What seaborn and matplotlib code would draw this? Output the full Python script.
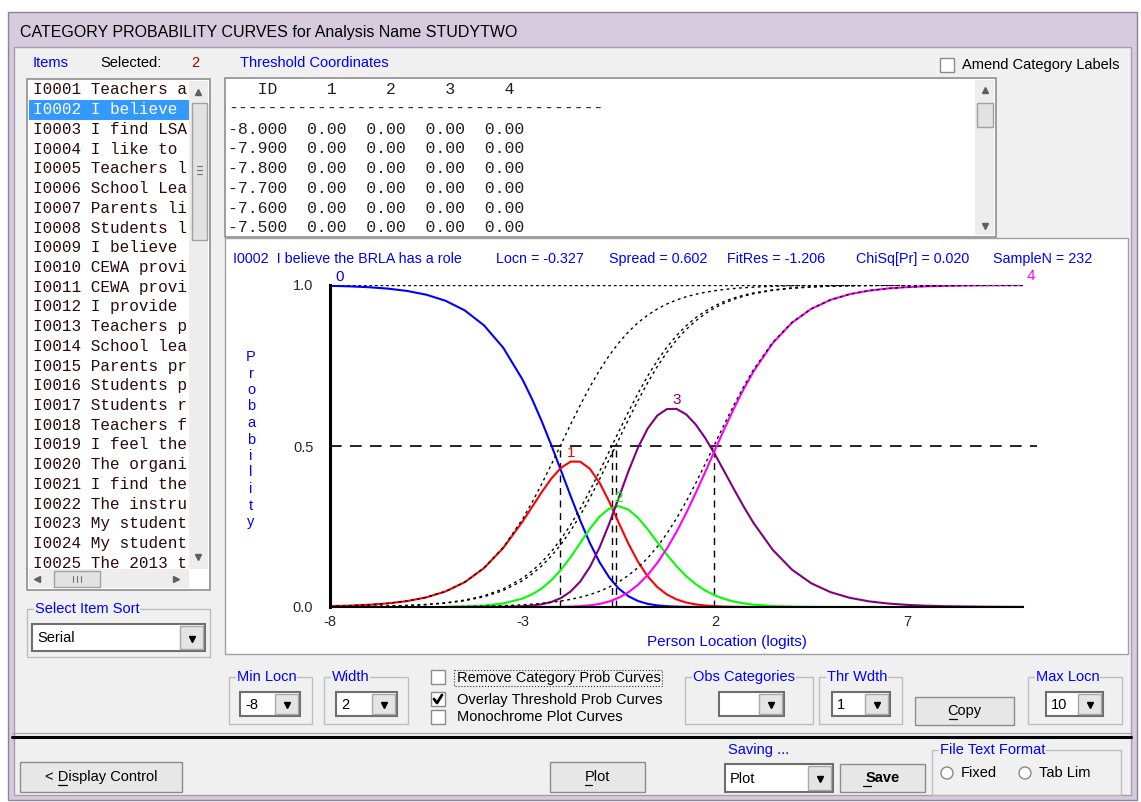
import matplotlib
matplotlib.use("Agg")
import matplotlib.pyplot as plt
from matplotlib.patches import Rectangle, Circle
import numpy as np
import pandas as pd
import seaborn as sns

nan = np.nan

locations = [-8, -7.5, -7, -6.5, -6, -5.5, -5, -4.5, -4, -3.5, -3,
             -2.75, -2.5, -2.25, -2, -1.75, -1.5, -1.25, -1, -0.75, -0.5, -0.25,
             0, 0.25, 0.5, 0.75, 1, 1.25, 1.5, 1.75, 2, 2.25, 2.5, 2.75, 3,
             3.5, 4, 4.5, 5, 5.5, 6, 6.5, 7, 7.5, 8, 8.5, 9, 9.5, 10]

# category probability curves (nan = curve not drawn there)
cat0 = [0.9975, 0.9958, 0.9932, 0.9888, 0.9816, 0.9699, 0.9511, 0.9211, 0.8747, 0.8052, 0.7065,
        0.6453, 0.5767, 0.5022, 0.4238, 0.3446, 0.2683, 0.1988, 0.1393, 0.0920, 0.0572, 0.0335,
        0.0186, 0.0098, 0.0050, 0.0024, 0.0012, 0.0005, 0.0002, 0.0001, 0.0, nan, nan, nan, nan,
        nan, nan, nan, nan, nan, nan, nan, nan, nan, nan, nan, nan, nan, nan]
cat1 = [0.0025, 0.0042, 0.0068, 0.0112, 0.0183, 0.0299, 0.0483, 0.0771, 0.1208, 0.1833, 0.2651,
        0.3110, 0.3569, 0.3990, 0.4323, 0.4514, 0.4513, 0.4293, 0.3863, 0.3277, 0.2616, 0.1969,
        0.1404, 0.0953, 0.0620, 0.0389, 0.0236, 0.0139, 0.0080, 0.0045, 0.0025, 0.0013, 0.0007, 0.0004, 0.0002,
        0.0001, 0.0, nan, nan, nan, nan, nan, nan, nan, nan, nan, nan, nan, nan]
cat2 = [nan, nan, nan, nan, nan, nan, 0.0006, 0.0017, 0.0044, 0.0109, 0.0261,
        0.0392, 0.0578, 0.0830, 0.1155, 0.1548, 0.1988, 0.2428, 0.2806, 0.3055, 0.3132, 0.3027,
        0.2771, 0.2416, 0.2019, 0.1626, 0.1267, 0.0960, 0.0708, 0.0510, 0.0359, 0.0248, 0.0167, 0.0111, 0.0073,
        0.0030, 0.0012, 0.0005, 0.0002, 0.0001, 0.0, 0.0, 0.0, 0.0, 0.0, 0.0, nan, nan, nan]
cat3 = [nan, nan, nan, nan, nan, nan, nan, nan, 0.0001, 0.0006, 0.0023,
        0.0045, 0.0085, 0.0156, 0.0279, 0.0481, 0.0792, 0.1242, 0.1843, 0.2578, 0.3393, 0.4211,
        0.4949, 0.5540, 0.5944, 0.6146, 0.6153, 0.5983, 0.5667, 0.5239, 0.4736, 0.4192, 0.3641, 0.3107, 0.2611,
        0.1774, 0.1159, 0.0737, 0.0461, 0.0285, 0.0175, 0.0107, 0.0065, 0.0040, 0.0024, 0.0015, 0.0009, 0.0005, 0.0003]
cat4 = [nan, nan, nan, nan, nan, nan, 0.0, 0.0, 0.0, 0.0, 0.0,
        0.0, 0.0001, 0.0002, 0.0005, 0.0012, 0.0025, 0.0050, 0.0095, 0.0170, 0.0287, 0.0457,
        0.0690, 0.0992, 0.1367, 0.1815, 0.2332, 0.2912, 0.3542, 0.4205, 0.4880, 0.5547, 0.6185, 0.6778, 0.7314,
        0.8195, 0.8829, 0.9258, 0.9537, 0.9715, 0.9825, 0.9893, 0.9935, 0.9960, 0.9976, 0.9985, 0.9991, 0.9995, 0.9997]

# threshold probability curves (black dotted overlay)
thr1 = [0.0025, 0.0042, 0.0068, 0.0112, 0.0183, 0.0299, 0.0483, 0.0773, 0.1213, 0.1854, 0.2729,
        0.3252, 0.3823, 0.4427, 0.5050, 0.5671, 0.6271, 0.6835, 0.7350, 0.7807, 0.8205, 0.8545,
        0.8829, 0.9064, 0.9255, 0.9410, 0.9535, 0.9634, 0.9713, 0.9775, 0.9824, 0.9862, 0.9892, 0.9916, 0.9934,
        0.9960, 0.9976, 0.9985, 0.9991, 0.9995, 0.9997, 0.9998, 0.9999, 0.9999, 1.0, 1.0, 1.0, 1.0, 1.0]
thr2 = [0.0007, 0.0011, 0.0018, 0.0030, 0.0049, 0.0080, 0.0131, 0.0215, 0.0349, 0.0563, 0.0895,
        0.1120, 0.1394, 0.1722, 0.2108, 0.2554, 0.3058, 0.3612, 0.4207, 0.4825, 0.5449, 0.6059,
        0.6637, 0.7171, 0.7649, 0.8069, 0.8429, 0.8732, 0.8985, 0.9191, 0.9358, 0.9493, 0.9600, 0.9686, 0.9754,
        0.9849, 0.9908, 0.9944, 0.9966, 0.9979, 0.9987, 0.9992, 0.9995, 0.9997, 0.9998, 0.9999, 0.9999, 1.0, 1.0]
thr3 = [0.0006, 0.0010, 0.0016, 0.0027, 0.0044, 0.0072, 0.0119, 0.0195, 0.0317, 0.0512, 0.0817,
        0.1025, 0.1279, 0.1584, 0.1947, 0.2369, 0.2850, 0.3385, 0.3965, 0.4576, 0.5200, 0.5818,
        0.6411, 0.6964, 0.7465, 0.7909, 0.8292, 0.8618, 0.8889, 0.9113, 0.9296, 0.9443, 0.9561, 0.9654, 0.9729,
        0.9834, 0.9899, 0.9938, 0.9962, 0.9977, 0.9986, 0.9992, 0.9995, 0.9997, 0.9998, 0.9999, 0.9999, 1.0, 1.0]
thr4 = [0.0, 0.0001, 0.0001, 0.0002, 0.0003, 0.0006, 0.0009, 0.0016, 0.0026, 0.0042, 0.0069,
        0.0088, 0.0113, 0.0145, 0.0185, 0.0237, 0.0302, 0.0384, 0.0488, 0.0618, 0.0780, 0.0980,
        0.1224, 0.1519, 0.1869, 0.2279, 0.2749, 0.3274, 0.3846, 0.4452, 0.5075, 0.5695, 0.6295, 0.6857, 0.7369,
        0.8220, 0.8839, 0.9262, 0.9539, 0.9715, 0.9825, 0.9893, 0.9935, 0.9960, 0.9976, 0.9985, 0.9991, 0.9995, 0.9997]

thresholds = [-2.02, -0.68, -0.58, 1.97]

categories = ["0", "1", "2", "3", "4"]
cat_colors = {"0": "#0000FF", "1": "#FF0000", "2": "#00FF00", "3": "#800080", "4": "#FF00FF"}

item_rows = ["I0001 Teachers a", "I0002 I believe ", "I0003 I find LSA", "I0004 I like to ",
             "I0005 Teachers l", "I0006 School Lea", "I0007 Parents li", "I0008 Students l",
             "I0009 I believe ", "I0010 CEWA provi", "I0011 CEWA provi", "I0012 I provide ",
             "I0013 Teachers p", "I0014 School lea", "I0015 Parents pr", "I0016 Students p",
             "I0017 Students r", "I0018 Teachers f", "I0019 I feel the", "I0020 The organi",
             "I0021 I find the", "I0022 The instru", "I0023 My student", "I0024 My student",
             "I0025 The 2013 t"]
selected_item = 1

table_header = "   ID     1     2     3     4"
table_locs = [-8.0, -7.9, -7.8, -7.7, -7.6, -7.5]
table_vals = [0.00, 0.00, 0.00, 0.00]

stat_labels = ["I0002  I believe the BRLA has a role", "Locn = -0.327", "Spread = 0.602",
               "FitRes = -1.206", "ChiSq[Pr] = 0.020", "SampleN = 232"]

W, H = 1141, 802
BLUE = "#0000FF"
BG = "#F0F0F0"
UI = "Liberation Sans"
MONO = "Liberation Mono"

sns.set_style("white")
plt.rcParams["font.family"] = [UI, "DejaVu Sans"]

fig = plt.figure(figsize=(W / 100, H / 100), dpi=100)
bg = fig.add_axes([0, 0, 1, 1])
bg.set_xlim(0, W)
bg.set_ylim(H, 0)
bg.axis("off")


def rect(x0, y0, x1, y1, fc="none", ec="none", lw=1.0, ls="-", z=1):
    bg.add_patch(Rectangle((x0, y0), x1 - x0, y1 - y0, facecolor=fc, edgecolor=ec,
                           lw=lw, ls=ls, zorder=z))


def txt(x, y, s, size=10.5, color="black", ha="left", weight="normal", family=UI, **kw):
    return bg.text(x, y, s, ha=ha, va="center", fontsize=size, color=color,
                   fontweight=weight, family=family, zorder=5, **kw)


def group(x0, y0, x1, y1, label):
    rect(x0, y0, x1, y1, ec="#BDBDBD", lw=1)
    txt(x0 + 8, y0, label, color=BLUE,
        bbox=dict(facecolor=BG, edgecolor="none", pad=0.5))


def combo(x0, y0, x1, y1, value):
    rect(x0, y0, x1, y1, fc="white", ec="#6E6E6E", lw=1.5, z=2)
    rect(x1 - 25, y0 + 2, x1 - 2, y1 - 2, fc="#E4E4E4", ec="#A8A8A8", z=3)
    bg.plot(x1 - 13.5, (y0 + y1) / 2 + 1, marker="v", ms=5, color="black", zorder=4)
    txt(x0 + 5, (y0 + y1) / 2 + 1, value)


def button(x0, y0, x1, y1, label, weight="normal", ul=None):
    rect(x0, y0, x1, y1, fc="#E7E7E7", ec="#8C8C8C", lw=1, z=2)
    cy = (y0 + y1) / 2
    txt((x0 + x1) / 2, cy, label, ha="center", weight=weight)
    if ul is not None:
        # underline for the accelerator key
        bg.plot(ul, [cy + 8, cy + 8], color="black", lw=0.9, zorder=5)


def checkbox(x, y, checked=False):
    rect(x, y, x + 14, y + 14, fc="white", ec="#8A8A8A", z=2)
    if checked:
        bg.plot([x + 3, x + 6, x + 11], [y + 7, y + 11, y + 3], color="black", lw=2, zorder=4)


# window frame
rect(0, 0, W, H, fc="white")
rect(8, 12, 1137, 800, fc="#D6CBDD", ec="#8E8298", lw=1)
rect(14, 47, 1131, 795, fc=BG, ec="#A89DB0", lw=1)
txt(20, 33, "CATEGORY PROBABILITY CURVES for Analysis Name STUDYTWO", size=11.5)

# item list
txt(33, 63, "Items", color=BLUE)
txt(100, 63, "Selected:")
txt(191, 63, str(selected_item + 1), color="#B00000")
rect(27, 79, 210, 590, fc="white", ec="#8E8E8E", lw=1.2)
list_clip = Rectangle((29, 81), 160, 488, transform=bg.transData)
for i, row in enumerate(item_rows):
    y = 90 + 19.72 * i
    color = "#2A0A0A"
    if i == selected_item:
        rect(29, y - 10, 189, y + 10, fc="#3399FF", z=2)
        color = "white"
    t = txt(33, y, row, size=11.5, color=color, family=MONO)
    t.set_clip_path(list_clip)
# list scrollbars
rect(189, 81, 208, 569, fc="#EDEDED", z=3)
rect(192, 103, 207, 240, fc="#E2E2E2", ec="#A0A0A0", z=4)
for yy in (166, 170, 174):
    bg.plot([197, 202], [yy, yy], color="#707070", lw=0.8, zorder=5)
bg.plot(198, 92, marker="^", ms=4, color="#606060", zorder=5)
bg.plot(198, 557, marker="v", ms=4, color="#606060", zorder=5)
rect(29, 569, 189, 588, fc="#EDEDED", z=3)
rect(54, 571, 100, 587, fc="#E2E2E2", ec="#A0A0A0", z=4)
for xx in (73, 77, 81):
    bg.plot([xx, xx], [576, 582], color="#707070", lw=0.8, zorder=5)
bg.plot(37, 579, marker="<", ms=4, color="#606060", zorder=5)
bg.plot(176, 579, marker=">", ms=4, color="#606060", zorder=5)

group(27, 609, 210, 657, "Select Item Sort")
combo(32, 624, 205, 651, "Serial")

# threshold coordinates table
txt(240, 63, "Threshold Coordinates", color=BLUE)
checkbox(940, 58)
txt(962, 65, "Amend Category Labels")
rect(225, 78, 996, 237, fc="white", ec="#8E8E8E", lw=1.2)
txt(228, 90, table_header, size=11.9, family=MONO, color="#202020")
txt(228, 108, "-" * 38, size=11.9, family=MONO, color="#202020")
for i, loc in enumerate(table_locs):
    line = f"{loc:.3f}" + "".join(f"  {v:.2f}" for v in table_vals)
    txt(228, 129 + 19.8 * i, line, size=11.9, family=MONO, color="#202020")
rect(975, 80, 994, 235, fc="#EDEDED", z=3)
rect(977, 103, 993, 127, fc="#E2E2E2", ec="#A0A0A0", z=4)
bg.plot(985, 90, marker="^", ms=4, color="#606060", zorder=5)
bg.plot(985, 226, marker="v", ms=4, color="#606060", zorder=5)

# chart panel
rect(225, 238, 1128, 654, fc="white", ec="#A0A0A0", lw=1)
stat_x = [233, 496, 609, 727, 856, 993]
for label, sx in zip(stat_labels, stat_x):
    txt(sx, 259, label, color=BLUE, size=10.3)
for i, ch in enumerate("Probability"):
    txt(251, 357 + 16.5 * i, ch, color=BLUE, ha="center", size=10.5)
txt(727, 642, "Person Location (logits)", color=BLUE, ha="center", size=11)

# bottom controls
group(229, 677, 312, 724, "Min Locn")
combo(240, 692, 300, 716, "-8")
group(324, 677, 408, 724, "Width")
combo(336, 692, 397, 716, "2")
checkbox(431, 670)
checkbox(431, 692, checked=True)
checkbox(431, 710)
rect(454, 670, 662, 686, ec="#333333", lw=0.8, ls=":", z=4)
txt(457, 678, "Remove Category Prob Curves")
txt(457, 700, "Overlay Threshold Prob Curves")
txt(457, 717, "Monochrome Plot Curves")
group(685, 677, 813, 724, "Obs Categories")
combo(719, 692, 784, 716, "")
group(819, 677, 902, 724, "Thr Wdth")
combo(832, 692, 890, 716, "1")
button(915, 697, 1014, 725, "Copy", ul=[949, 957])
group(1028, 677, 1122, 724, "Max Locn")
combo(1046, 692, 1103, 716, "10")

bg.plot([12, 1131], [737, 737], color="black", lw=2.2, zorder=3)
bg.plot([12, 1131], [733, 733], color="#A0A0A0", lw=0.8, zorder=3)
button(20, 762, 182, 792, "< Display Control", ul=[58, 67])
button(550, 762, 645, 792, "Plot", ul=[585, 592])
txt(728, 750, "Saving ...", color=BLUE)
combo(725, 764, 833, 792, "Plot")
button(840, 764, 925, 792, "Save", weight="bold", ul=[863, 871])
group(932, 750, 1121, 795, "File Text Format")
for cx, label in ((947, "Fixed"), (1025, "Tab Lim")):
    bg.add_patch(Circle((cx, 773), 6, facecolor="white", edgecolor="#8A8A8A", lw=1, zorder=3))
    txt(cx + 14, 773, label)

# probability curves
ax = fig.add_axes([330 / W, 1 - 607 / H, 693 / W, 322 / H])
ax.patch.set_alpha(0)

cat_df = pd.concat([
    pd.DataFrame({"location": locations, "probability": vals, "category": k})
    for k, vals in zip(categories, [cat0, cat1, cat2, cat3, cat4])
]).dropna()
thr_df = pd.concat([
    pd.DataFrame({"location": locations, "probability": vals, "threshold": f"T{i + 1}"})
    for i, vals in enumerate([thr1, thr2, thr3, thr4])
])

ax.axhline(1.0, color="black", lw=1, ls=(0, (2, 2)))
ax.axhline(0.5, xmin=0, xmax=1.02, color="black", lw=1.2, ls=(0, (7, 5)), clip_on=False)
ax.vlines(thresholds, 0, 0.5, color="black", lw=1, linestyles=(0, (5, 4)))

sns.lineplot(data=cat_df, x="location", y="probability", hue="category",
             hue_order=categories, palette=cat_colors, lw=1.5, legend=False,
             estimator=None, sort=False, ax=ax)
sns.lineplot(data=thr_df, x="location", y="probability", hue="threshold",
             palette=["black"] * 4, lw=1, ls=(0, (2, 2.5)), legend=False,
             estimator=None, sort=False, ax=ax)

# category labels at the curve ends / peaks
for k, vals in zip(categories, [cat0, cat1, cat2, cat3, cat4]):
    arr = np.array(vals, dtype=float)
    if k == "0":
        lx, ly, ha = locations[0] + 0.15, arr[0], "left"
    elif k == "4":
        lx, ly, ha = locations[-1] + 0.1, arr[-1], "left"
    else:
        i = int(np.nanargmax(arr))
        lx, ly, ha = locations[i], arr[i], "center"
    ax.text(lx, ly + 0.005, k, color=cat_colors[k], ha=ha, va="bottom",
            fontsize=11, clip_on=False)

ax.set_xlim(-8, 10)
ax.set_ylim(0, 1)
ax.set_xlabel("")
ax.set_ylabel("")
for side in ("top", "right"):
    ax.spines[side].set_visible(False)
ax.spines["left"].set_linewidth(2.2)
ax.spines["bottom"].set_linewidth(1.5)
ax.spines["left"].set_color("black")
ax.spines["bottom"].set_color("black")

xt = list(range(-8, 11))
ax.set_xticks(xt)
ax.set_xticklabels([str(v) if (v + 8) % 5 == 0 else "" for v in xt])
ax.tick_params(axis="x", direction="inout", length=6, width=1, labelsize=10.5, pad=3)
ax.set_yticks([0, 0.5, 1.0])
ax.set_yticklabels(["0.0", "0.5", "1.0"])
ax.set_yticks([i / 10 for i in range(11)], minor=True)
ax.tick_params(axis="y", which="major", direction="out", length=11, width=1, labelsize=10.5, pad=1)
ax.tick_params(axis="y", which="minor", direction="out", length=3, width=1)
ax.grid(False)

fig.savefig("out.png", dpi=100)
plt.close(fig)
